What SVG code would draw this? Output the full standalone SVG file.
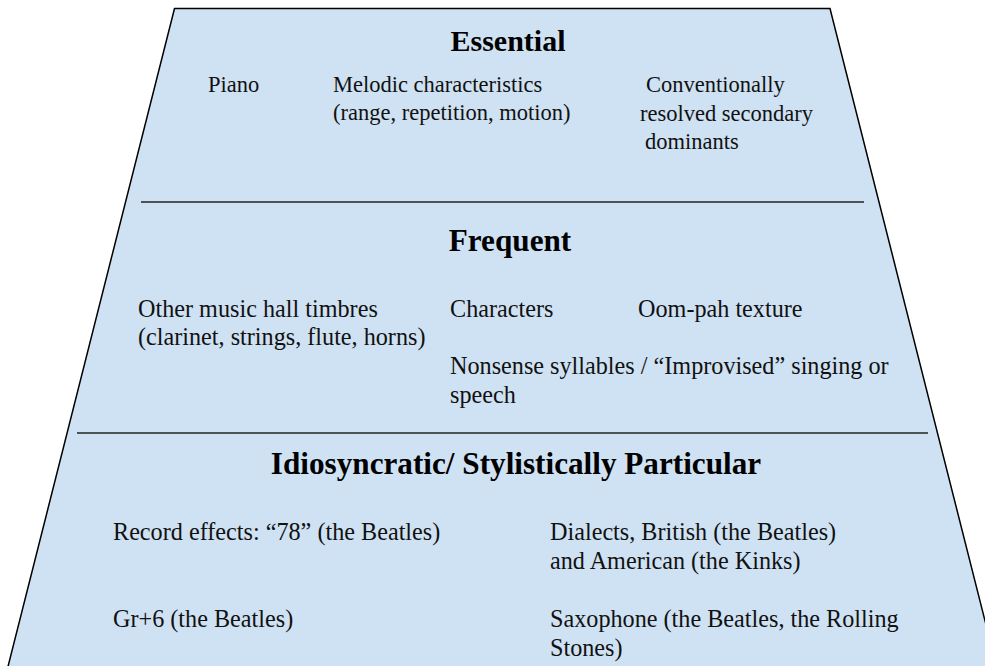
<svg xmlns="http://www.w3.org/2000/svg" width="985" height="666" viewBox="0 0 985 666">
<style>
.t{font-family:"Liberation Serif","Times New Roman",serif;font-size:22.5px;fill:#111}
.t2{font-family:"Liberation Serif","Times New Roman",serif;font-size:24.2px;fill:#111}
.h{font-family:"Liberation Serif","Times New Roman",serif;font-size:30px;font-weight:bold;fill:#000;text-anchor:middle}
.h2{font-family:"Liberation Serif","Times New Roman",serif;font-size:31.2px;font-weight:bold;fill:#000;text-anchor:middle}
.sep{stroke:#222;stroke-width:1.5;fill:none}
</style>
<rect width="985" height="666" fill="#fff"/>
<g id="pyramid">
<polygon points="174.5,8.5 830,8.5 1000,680 4.6,680" fill="#cfe2f3" stroke="#000" stroke-width="1.5"/>
</g>
<g id="connectors">
<line class="sep" x1="141" y1="202" x2="864" y2="202"/>
<line class="sep" x1="77" y1="433" x2="928" y2="433"/>
</g>
<g id="essential">
<text class="h" x="508" y="51">Essential</text>
<text class="t" x="208" y="92">Piano</text>
<text class="t" x="333" y="92">Melodic characteristics</text>
<text class="t" x="333" y="120">(range, repetition, motion)</text>
<text class="t" x="646" y="92">Conventionally</text>
<text class="t" x="640" y="121">resolved secondary</text>
<text class="t" x="645" y="149">dominants</text>
</g>
<g id="frequent">
<text class="h2" x="510" y="251">Frequent</text>
<text class="t2" x="138" y="317">Other music hall timbres</text>
<text class="t2" x="138" y="345">(clarinet, strings, flute, horns)</text>
<text class="t2" x="450" y="317">Characters</text>
<text class="t2" x="638" y="317">Oom-pah texture</text>
<text class="t2" x="450" y="374">Nonsense syllables / “Improvised” singing or</text>
<text class="t2" x="450" y="403">speech</text>
</g>
<g id="idiosyncratic">
<text class="h2" x="516" y="474">Idiosyncratic/ Stylistically Particular</text>
<text class="t2" x="113" y="540">Record effects: “78” (the Beatles)</text>
<text class="t2" x="550" y="540">Dialects, British (the Beatles)</text>
<text class="t2" x="550" y="569">and American (the Kinks)</text>
<text class="t2" x="113" y="627">Gr+6 (the Beatles)</text>
<text class="t2" x="550" y="627">Saxophone (the Beatles, the Rolling</text>
<text class="t2" x="550" y="656">Stones)</text>
</g>
</svg>
